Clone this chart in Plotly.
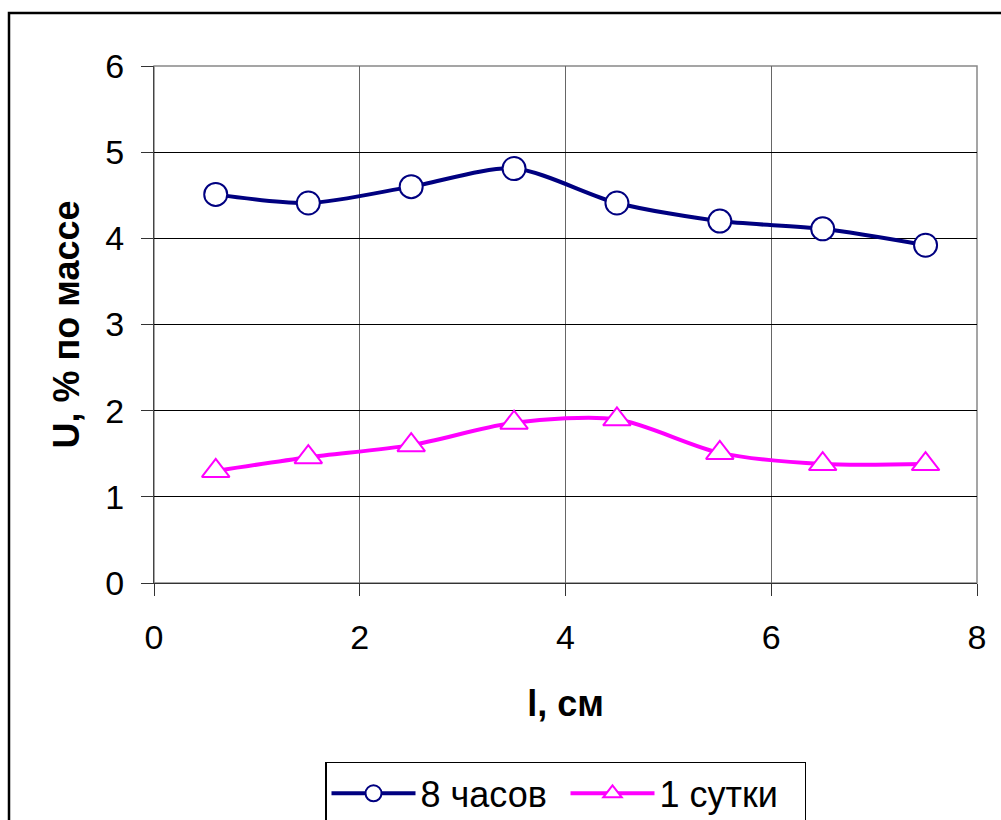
import plotly.graph_objects as go

x_vals = [0.6, 1.5, 2.5, 3.5, 4.5, 5.5, 6.5, 7.5]
u_8h = [4.51, 4.41, 4.60, 4.81, 4.41, 4.20, 4.11, 3.92]
u_1d = [1.30, 1.46, 1.60, 1.86, 1.90, 1.51, 1.38, 1.38]
name_8h = "8 часов"
name_1d = "1 сутки"
x_ticks = [0, 2, 4, 6, 8]
y_ticks = [0, 1, 2, 3, 4, 5, 6]

FONT = "Liberation Sans, Arial, sans-serif"

fig = go.Figure()
fig.add_trace(go.Scatter(
    x=x_vals, y=u_8h, name=name_8h, mode="lines+markers",
    line=dict(color="#000080", width=4, shape="spline", smoothing=0.8),
    marker=dict(symbol="circle", size=23, color="white",
                line=dict(color="#000080", width=2)),
))
fig.add_trace(go.Scatter(
    x=x_vals, y=u_1d, name=name_1d, mode="lines+markers",
    line=dict(color="#FF00FF", width=4, shape="spline", smoothing=0.8),
    marker=dict(symbol="triangle-up", size=24, color="white",
                line=dict(color="#FF00FF", width=2)),
))

fig.update_layout(
    width=1001, height=820,
    margin=dict(l=154, r=24, t=66, b=237, autoexpand=False),
    paper_bgcolor="white", plot_bgcolor="white",
    font=dict(family=FONT, size=34, color="black"),
    showlegend=True,
    legend=dict(orientation="h", x=0.5, xanchor="center", y=-0.346, yanchor="top",
                bordercolor="black", borderwidth=1.5, bgcolor="white",
                font=dict(size=36), itemwidth=84, entrywidth=140,
                entrywidthmode="pixels"),
    xaxis=dict(range=[0, 8], tickvals=x_ticks, showgrid=True, gridcolor="#666666",
               gridwidth=1, ticks="outside", ticklen=12, tickcolor="#333333",
               showline=True, linecolor="#333333", linewidth=1, mirror=False,
               zeroline=False, ticklabelstandoff=12,
               title=dict(text="<b>l, см</b>", font=dict(size=36), standoff=36)),
    yaxis=dict(range=[0, 6], tickvals=y_ticks, showgrid=True, gridcolor="#000000",
               gridwidth=1, ticks="outside", ticklen=12, tickcolor="#333333",
               showline=True, linecolor="#444444", linewidth=1,
               zeroline=False, ticklabelstandoff=10,
               title=dict(text="<b>U, % по массе</b>", font=dict(size=36), standoff=14)),
    shapes=[
        dict(type="rect", xref="paper", yref="paper", x0=0, y0=0, x1=1, y1=1,
             line=dict(color="#888888", width=1.5), layer="below"),
        dict(type="rect", xref="paper", yref="paper",
             x0=(9 - 154) / 823, x1=(1012 - 154) / 823,
             y0=(583 - 835) / 517, y1=(583 - 13) / 517,
             line=dict(color="black", width=2.5)),
    ],
)

fig.write_html("out.html", config={"displayModeBar": False},
               post_script="document.body.style.margin='0px';")
